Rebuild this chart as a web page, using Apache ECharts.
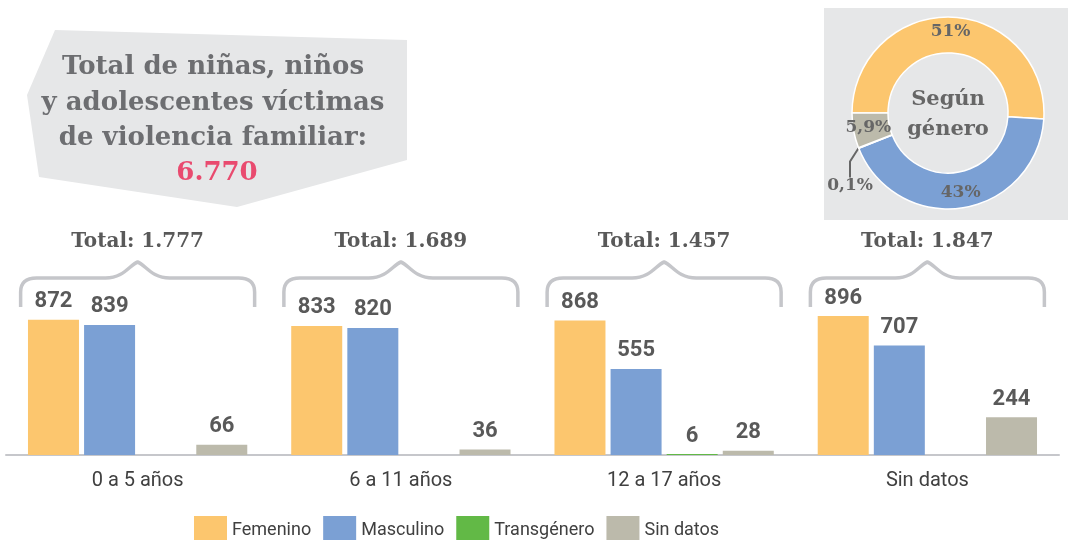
<!DOCTYPE html>
<html>
<head>
<meta charset="utf-8">
<script src="https://cdn.jsdelivr.net/npm/echarts@6/dist/echarts.min.js"></script>
<style>
  html, body { margin: 0; padding: 0; background: #fff; }
  #chart { width: 1069px; height: 540px; }
</style>
</head>
<body>
<div id="chart"></div>
<script>
// datos
var categories = ["0 a 5 años", "6 a 11 años", "12 a 17 años", "Sin datos"];
var femenino = [872, 833, 868, 896];
var masculino = [839, 820, 555, 707];
var transgenero = [0, 0, 6, 0];
var sinDatos = [66, 36, 28, 244];
var totalGeneral = "6.770";
var seriesNames = ["Femenino", "Masculino", "Transgénero", "Sin datos"];
var generoPct = [51, 43, 0.1, 5.9];
var generoLabels = ["51%", "43%", "0,1%", "5,9%"];
var colors = ["#fcc66e", "#7ba0d4", "#62b946", "#bcbaab"];

var slab = '"DejaVu Serif"';

function fmt(n) {
  return String(n).replace(/\B(?=(\d{3})+(?!\d))/g, ".");
}

var totals = categories.map(function(c, i) {
  return femenino[i] + masculino[i] + transgenero[i] + sinDatos[i];
});

var chart = echarts.init(document.getElementById("chart"));

function barSeries(name, data, color) {
  return {
    name: name,
    type: "bar",
    data: data,
    barWidth: 51,
    barGap: "10%",
    itemStyle: { color: color },
    label: {
      show: true,
      position: "top",
      distance: 7,
      color: "#595959",
      fontFamily: "Roboto",
      fontWeight: "bold",
      fontSize: 22,
      formatter: function(p) {
        return p.value ? p.value : "";
      }
    }
  };
}

var option = {
  animation: false,
  grid: { left: 6, right: 10, top: 300, bottom: 85 },
  legend: {
    data: seriesNames,
    left: 189,
    top: 511,
    itemWidth: 33,
    itemHeight: 28,
    itemGap: 12,
    icon: "rect",
    selectedMode: false,
    textStyle: { fontFamily: "Roboto", fontSize: 18, color: "#404040" }
  },
  xAxis: {
    type: "category",
    data: categories,
    axisLine: { lineStyle: { color: "#c6c7cb", width: 2 } },
    axisTick: { inside: true, length: 14, lineStyle: { color: "#c6c7cb", width: 2 } },
    axisLabel: { margin: 16, fontFamily: "Roboto", fontSize: 20, color: "#404040" }
  },
  yAxis: {
    type: "value",
    min: 0,
    max: 1000,
    show: false,
    splitLine: { show: false }
  },
  graphic: [
    {
      type: "polygon",
      shape: { points: [[55, 30], [407, 40], [407, 160], [237, 207], [39, 177], [27, 95]] },
      style: { fill: "#e6e7e8" }
    },
    {
      type: "text",
      x: 213, y: 67,
      style: { text: "Total de niñas, niños", font: "bold 26px " + slab, fill: "#6d6e71", align: "center", verticalAlign: "middle" }
    },
    {
      type: "text",
      x: 213, y: 103,
      style: { text: "y adolescentes víctimas", font: "bold 26px " + slab, fill: "#6d6e71", align: "center", verticalAlign: "middle" }
    },
    {
      type: "text",
      x: 213, y: 138,
      style: { text: "de violencia familiar:", font: "bold 26px " + slab, fill: "#6d6e71", align: "center", verticalAlign: "middle" }
    },
    {
      type: "text",
      x: 217, y: 173,
      style: { text: totalGeneral, font: "bold 26px " + slab, fill: "#e94b6f", align: "center", verticalAlign: "middle" }
    },
    {
      type: "rect",
      shape: { x: 824, y: 8, width: 244, height: 212 },
      style: { fill: "#e6e7e8" }
    },
    {
      type: "text",
      x: 948, y: 100,
      style: { text: "Según", font: "bold 21px " + slab, fill: "#666666", align: "center", verticalAlign: "middle" }
    },
    {
      type: "text",
      x: 948, y: 130,
      style: { text: "género", font: "bold 21px " + slab, fill: "#666666", align: "center", verticalAlign: "middle" }
    }
  ],
  series: [
    barSeries(seriesNames[0], femenino, colors[0]),
    barSeries(seriesNames[1], masculino, colors[1]),
    barSeries(seriesNames[2], transgenero, colors[2]),
    barSeries(seriesNames[3], sinDatos, colors[3]),
    {
      // llaves con el total de cada grupo
      type: "custom",
      silent: true,
      data: totals.map(function(t, i) { return [i, t]; }),
      renderItem: function(params, api) {
        var base = api.coord([api.value(0), 0]);
        var cx = base[0];
        var half = 117;
        var L = cx - half, R = cx + half;
        var yh = base[1] - 177;
        var ytip = yh - 16;
        var yend = yh + 29;
        var d = "M" + L + " " + yend + " L" + L + " " + (yh + 14) +
          " Q" + L + " " + yh + " " + (L + 16) + " " + yh +
          " L" + (cx - 32) + " " + yh +
          " C" + (cx - 14) + " " + yh + " " + (cx - 8) + " " + (ytip + 3) + " " + cx + " " + ytip +
          " C" + (cx + 8) + " " + (ytip + 3) + " " + (cx + 14) + " " + yh + " " + (cx + 32) + " " + yh +
          " L" + (R - 16) + " " + yh +
          " Q" + R + " " + yh + " " + R + " " + (yh + 14) +
          " L" + R + " " + yend;
        return {
          type: "group",
          children: [
            {
              type: "path",
              shape: { pathData: d },
              style: { fill: null, stroke: "#c5c6ca", lineWidth: 3.5 }
            },
            {
              type: "text",
              x: cx, y: ytip - 20,
              style: {
                text: "Total: " + fmt(api.value(1)),
                font: "bold 20px " + slab,
                fill: "#595959",
                align: "center",
                verticalAlign: "middle"
              }
            }
          ]
        };
      }
    },
    {
      type: "pie",
      center: [948, 113],
      radius: [60, 96],
      startAngle: 180,
      silent: true,
      avoidLabelOverlap: false,
      itemStyle: { borderColor: "#fff", borderWidth: 1.5 },
      label: {
        show: true,
        position: "inside",
        fontFamily: slab,
        fontWeight: "bold",
        fontSize: 17,
        color: "#666666",
        formatter: function(p) { return generoLabels[p.dataIndex]; }
      },
      labelLine: { show: false },
      labelLayout: function(p) {
        if (p.dataIndex === 2) {
          return { x: 850, y: 186, align: "center", verticalAlign: "middle" };
        }
      },
      data: generoPct.map(function(v, i) {
        var item = { name: seriesNames[i], value: v, itemStyle: { color: colors[i] } };
        if (i === 2) {
          item.label = { position: "outside" };
          item.labelLine = { show: true, length: 4, length2: 16, lineStyle: { color: "#666666", width: 2 } };
        }
        return item;
      })
    }
  ]
};

chart.setOption(option);
window.addEventListener("resize", function() {
  chart.resize();
});
</script>
</body>
</html>
